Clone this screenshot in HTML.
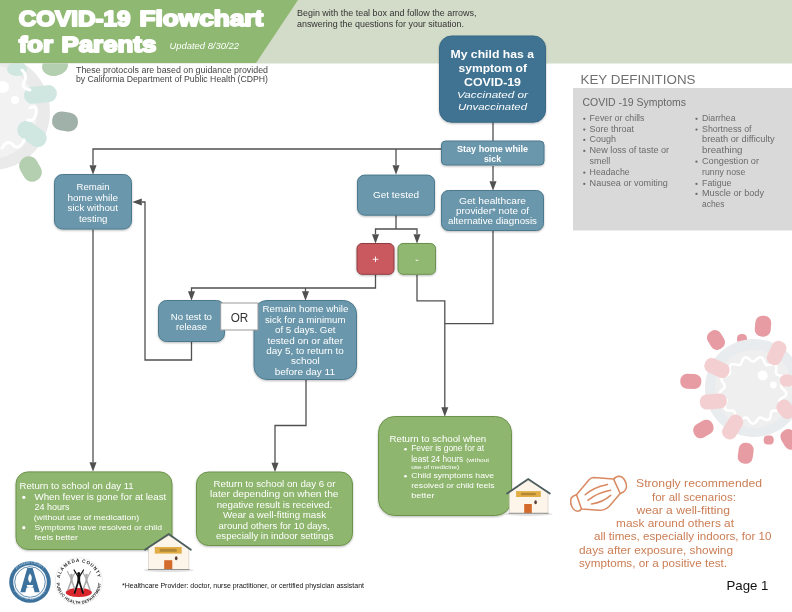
<!DOCTYPE html>
<html><head><meta charset="utf-8"><title>COVID-19 Flowchart for Parents</title>
<style>
html,body{margin:0;padding:0;background:#fff;}
body{width:792px;height:612px;overflow:hidden;font-family:"Liberation Sans",sans-serif;}
svg{display:block;font-family:"Liberation Sans",sans-serif;}
</style></head><body>
<svg width="792" height="612" viewBox="0 0 792 612">
<defs>
<filter id="sh" x="-10%" y="-10%" width="120%" height="130%"><feDropShadow dx="0" dy="1" stdDeviation="1" flood-color="#000" flood-opacity="0.28"/></filter>
<filter id="bl" x="-5%" y="-5%" width="110%" height="110%"><feGaussianBlur stdDeviation="0.5"/></filter>
</defs>
<rect width="792" height="612" fill="#fff"/>
<g opacity="0.999">

<g id="virusL">
<circle cx="-8" cy="112" r="58" fill="#eaeaea"/>
<circle cx="-10" cy="112" r="47" fill="#f2f2f2"/>
<ellipse cx="55" cy="66" rx="13" ry="10" fill="#b4ceb0" transform="rotate(-10 55 66)"/>
<ellipse cx="17" cy="69" rx="10" ry="7" fill="#cfe7e0"/>
<rect x="24" y="86" width="33" height="17" rx="8.5" fill="#cfe7e0" transform="rotate(-6 40 95)"/>
<rect x="52" y="112" width="26" height="19" rx="9" fill="#9fb1a8" transform="rotate(8 65 122)"/>
<rect x="16" y="125" width="32" height="18" rx="9" fill="#cfe7e0" transform="rotate(35 32 134)"/>
<rect x="21" y="156" width="19" height="26" rx="9" fill="#b4ceb0" transform="rotate(-30 30.5 169)"/>
<circle cx="3" cy="87" r="6" fill="#fff"/>
<circle cx="15" cy="100" r="4" fill="#fff"/>
<path d="M22,70 q6,6 2,12 q-3,6 6,8 M30,108 q8,-4 6,6 q-2,8 -8,6 M2,148 q6,-10 12,-2 q6,4 10,-6" fill="none" stroke="#fff" stroke-width="3" stroke-linecap="round"/>
</g>
<rect x="0" y="0" width="792" height="63.5" fill="#d3dcc9"/>
<path d="M0,0 H298 L256,63 H0 Z" fill="#8fb872"/>
<text x="18.70" y="25.70" font-size="22" fill="#fff" font-weight="bold" font-style="normal" textLength="111.80" lengthAdjust="spacingAndGlyphs" stroke="#fff" stroke-width="1.9" stroke-linejoin="round">COVID-19</text>
<text x="139.50" y="25.70" font-size="22" fill="#fff" font-weight="bold" font-style="normal" textLength="123.80" lengthAdjust="spacingAndGlyphs" stroke="#fff" stroke-width="1.9" stroke-linejoin="round">Flowchart</text>
<text x="18.70" y="51.90" font-size="22" fill="#fff" font-weight="bold" font-style="normal" textLength="34.30" lengthAdjust="spacingAndGlyphs" stroke="#fff" stroke-width="1.9" stroke-linejoin="round">for</text>
<text x="61.50" y="51.90" font-size="22" fill="#fff" font-weight="bold" font-style="normal" textLength="94.80" lengthAdjust="spacingAndGlyphs" stroke="#fff" stroke-width="1.9" stroke-linejoin="round">Parents</text>
<text x="169.50" y="49.49" font-size="8.8" fill="#fff" font-weight="normal" font-style="italic" textLength="69.50" lengthAdjust="spacingAndGlyphs" >Updated 8/30/22</text>
<text x="297.00" y="15.50" font-size="9.4" fill="#333" font-weight="normal" font-style="normal" textLength="179.50" lengthAdjust="spacingAndGlyphs" >Begin with the teal box and follow the arrows,</text>
<text x="297.00" y="27.00" font-size="9.4" fill="#333" font-weight="normal" font-style="normal" textLength="167.00" lengthAdjust="spacingAndGlyphs" >answering the questions for your situation.</text>
<text x="76.00" y="72.86" font-size="8.3" fill="#444" font-weight="normal" font-style="normal" textLength="192.00" lengthAdjust="spacingAndGlyphs" >These protocols are based on guidance provided</text>
<text x="76.00" y="82.46" font-size="8.3" fill="#444" font-weight="normal" font-style="normal" textLength="192.00" lengthAdjust="spacingAndGlyphs" >by California Department of Public Health (CDPH)</text>
<polyline points="493,122 493,141" fill="none" stroke="#505050" stroke-width="1.3"/>
<polyline points="442,149 93,149 93,165" fill="none" stroke="#505050" stroke-width="1.3"/>
<polyline points="396,149 396,165" fill="none" stroke="#505050" stroke-width="1.3"/>
<path d="M89.5,165.20000000000002 L96.5,165.20000000000002 L93,174.8 Z" fill="#505050"/>
<path d="M392.5,165.20000000000002 L399.5,165.20000000000002 L396,174.8 Z" fill="#505050"/>
<polyline points="493,166 493,181" fill="none" stroke="#505050" stroke-width="1.3"/>
<path d="M489.5,181.20000000000002 L496.5,181.20000000000002 L493,190.8 Z" fill="#505050"/>
<polyline points="396,215 396,229" fill="none" stroke="#505050" stroke-width="1.3"/>
<polyline points="375.5,234 375.5,229 417,229 417,234" fill="none" stroke="#505050" stroke-width="1.3"/>
<path d="M372.0,234.20000000000002 L379.0,234.20000000000002 L375.5,243.8 Z" fill="#505050"/>
<path d="M413.5,234.20000000000002 L420.5,234.20000000000002 L417,243.8 Z" fill="#505050"/>
<polyline points="375.5,275 375.5,288 191.5,288 191.5,292" fill="none" stroke="#505050" stroke-width="1.3"/>
<polyline points="305.5,288 305.5,292" fill="none" stroke="#505050" stroke-width="1.3"/>
<path d="M188.0,291.2 L195.0,291.2 L191.5,300.8 Z" fill="#505050"/>
<path d="M302.0,291.2 L309.0,291.2 L305.5,300.8 Z" fill="#505050"/>
<polyline points="417,275 417,300.8 444.8,300.8 444.8,408" fill="none" stroke="#505050" stroke-width="1.3"/>
<path d="M441.3,407.2 L448.3,407.2 L444.8,416.8 Z" fill="#505050"/>
<polyline points="493,231 493,323.6 444.8,323.6" fill="none" stroke="#505050" stroke-width="1.3"/>
<polyline points="191.5,342 191.5,360 145,360 145,202 142,202" fill="none" stroke="#505050" stroke-width="1.3"/>
<path d="M141.79999999999998,198.5 L141.79999999999998,205.5 L132.2,202 Z" fill="#505050"/>
<polyline points="93,229.5 93,462" fill="none" stroke="#505050" stroke-width="1.3"/>
<path d="M89.5,462.2 L96.5,462.2 L93,471.8 Z" fill="#505050"/>
<polyline points="306,380 306,425.5 275,425.5 275,463" fill="none" stroke="#505050" stroke-width="1.3"/>
<path d="M271.5,462.7 L278.5,462.7 L275,472.3 Z" fill="#505050"/>
<rect x="439.5" y="36.0" width="106" height="86.2" rx="12" ry="12" fill="#3f7392" stroke="#386885" stroke-width="1" filter="url(#sh)"/>
<text x="450.50" y="58.01" font-size="11.8" fill="#fff" font-weight="bold" font-style="normal" textLength="83.50" lengthAdjust="spacingAndGlyphs" >My child has a</text>
<text x="458.50" y="71.81" font-size="11.8" fill="#fff" font-weight="bold" font-style="normal" textLength="68.50" lengthAdjust="spacingAndGlyphs" >symptom of</text>
<text x="464.00" y="85.75" font-size="11.8" fill="#fff" font-weight="bold" font-style="normal" textLength="57.00" lengthAdjust="spacingAndGlyphs" >COVID-19</text>
<text x="457.00" y="97.76" font-size="9.6" fill="#fff" font-weight="normal" font-style="italic" textLength="71.00" lengthAdjust="spacingAndGlyphs" >Vaccinated or</text>
<text x="458.00" y="109.76" font-size="9.6" fill="#fff" font-weight="normal" font-style="italic" textLength="69.00" lengthAdjust="spacingAndGlyphs" >Unvaccinated</text>
<rect x="441.5" y="141.0" width="102.5" height="24.0" rx="4" ry="4" fill="#6a97ab" stroke="#4c798d" stroke-width="1" filter="url(#sh)"/>
<text x="457.00" y="151.68" font-size="9.3" fill="#fff" font-weight="bold" font-style="normal" textLength="71.00" lengthAdjust="spacingAndGlyphs" >Stay home while</text>
<text x="484.00" y="161.98" font-size="9.3" fill="#fff" font-weight="bold" font-style="normal" textLength="17.00" lengthAdjust="spacingAndGlyphs" >sick</text>
<rect x="357.5" y="175.1" width="77" height="40.099999999999994" rx="7" ry="7" fill="#6a97ab" stroke="#4c798d" stroke-width="1" filter="url(#sh)"/>
<text x="373.00" y="198.37" font-size="9.6" fill="#fff" font-weight="normal" font-style="normal" textLength="46.00" lengthAdjust="spacingAndGlyphs" >Get tested</text>
<rect x="441.5" y="190.5" width="102" height="40" rx="7" ry="7" fill="#6a97ab" stroke="#4c798d" stroke-width="1" filter="url(#sh)"/>
<text x="459.00" y="203.81" font-size="9.4" fill="#fff" font-weight="normal" font-style="normal" textLength="67.00" lengthAdjust="spacingAndGlyphs" >Get healthcare</text>
<text x="456.00" y="214.01" font-size="9.4" fill="#fff" font-weight="normal" font-style="normal" textLength="73.00" lengthAdjust="spacingAndGlyphs" >provider* note of</text>
<text x="448.00" y="224.41" font-size="9.4" fill="#fff" font-weight="normal" font-style="normal" textLength="89.00" lengthAdjust="spacingAndGlyphs" >alternative diagnosis</text>
<rect x="357.0" y="243.5" width="37.0" height="30.80000000000001" rx="5" ry="5" fill="#c9585e" stroke="#8f3d43" stroke-width="1" filter="url(#sh)"/>
<path d="M372.7,259.3 H378.3 M375.5,256.5 V262.1" stroke="#fff" stroke-width="0.9" fill="none"/>
<rect x="398.0" y="243.5" width="37.5" height="30.80000000000001" rx="5" ry="5" fill="#90b86f" stroke="#6a8f4f" stroke-width="1" filter="url(#sh)"/>
<path d="M415.6,260.3 H418.4" stroke="#fff" stroke-width="0.9" fill="none"/>
<rect x="54.5" y="174.5" width="77" height="54.599999999999994" rx="8" ry="8" fill="#6a97ab" stroke="#4c798d" stroke-width="1" filter="url(#sh)"/>
<text x="76.50" y="189.58" font-size="9" fill="#fff" font-weight="normal" font-style="normal" textLength="33.00" lengthAdjust="spacingAndGlyphs" >Remain</text>
<text x="67.50" y="200.68" font-size="9" fill="#fff" font-weight="normal" font-style="normal" textLength="50.50" lengthAdjust="spacingAndGlyphs" >home while</text>
<text x="67.50" y="211.18" font-size="9" fill="#fff" font-weight="normal" font-style="normal" textLength="50.50" lengthAdjust="spacingAndGlyphs" >sick without</text>
<text x="79.00" y="221.58" font-size="9" fill="#fff" font-weight="normal" font-style="normal" textLength="28.50" lengthAdjust="spacingAndGlyphs" >testing</text>
<rect x="158.5" y="300.5" width="66" height="41" rx="8" ry="8" fill="#6a97ab" stroke="#4c798d" stroke-width="1" filter="url(#sh)"/>
<text x="170.70" y="319.58" font-size="9" fill="#fff" font-weight="normal" font-style="normal" textLength="41.30" lengthAdjust="spacingAndGlyphs" >No test to</text>
<text x="176.00" y="329.68" font-size="9" fill="#fff" font-weight="normal" font-style="normal" textLength="31.00" lengthAdjust="spacingAndGlyphs" >release</text>
<rect x="254.0" y="300.5" width="102.5" height="79" rx="13" ry="13" fill="#6a97ab" stroke="#4c798d" stroke-width="1" filter="url(#sh)"/>
<text x="262.50" y="311.94" font-size="9.2" fill="#fff" font-weight="normal" font-style="normal" textLength="86.00" lengthAdjust="spacingAndGlyphs" >Remain home while</text>
<text x="265.00" y="322.64" font-size="9.2" fill="#fff" font-weight="normal" font-style="normal" textLength="80.50" lengthAdjust="spacingAndGlyphs" >sick for a minimum</text>
<text x="275.00" y="333.14" font-size="9.2" fill="#fff" font-weight="normal" font-style="normal" textLength="60.50" lengthAdjust="spacingAndGlyphs" >of 5 days. Get</text>
<text x="267.50" y="343.54" font-size="9.2" fill="#fff" font-weight="normal" font-style="normal" textLength="75.50" lengthAdjust="spacingAndGlyphs" >tested on or after</text>
<text x="266.20" y="353.94" font-size="9.2" fill="#fff" font-weight="normal" font-style="normal" textLength="77.60" lengthAdjust="spacingAndGlyphs" >day 5, to return to</text>
<text x="291.00" y="364.44" font-size="9.2" fill="#fff" font-weight="normal" font-style="normal" textLength="28.80" lengthAdjust="spacingAndGlyphs" >school</text>
<text x="274.70" y="374.74" font-size="9.2" fill="#fff" font-weight="normal" font-style="normal" textLength="60.30" lengthAdjust="spacingAndGlyphs" >before day 11</text>
<rect x="220.7" y="303" width="37.3" height="27" fill="#fff" stroke="#999" stroke-width="1"/>
<text x="230.70" y="321.62" font-size="12" fill="#333" font-weight="normal" font-style="normal" textLength="17.60" lengthAdjust="spacingAndGlyphs" >OR</text>
<rect x="16.0" y="471.9" width="156.0" height="77.60000000000002" rx="12" ry="12" fill="#8fb66e" stroke="#6d934b" stroke-width="1" filter="url(#sh)"/>
<text x="19.50" y="488.68" font-size="9" fill="#fff" font-weight="normal" font-style="normal" textLength="114.20" lengthAdjust="spacingAndGlyphs" >Return to school on day 11</text>
<circle cx="23.8" cy="497.3" r="1.6" fill="#fff"/><circle cx="23.8" cy="527.7" r="1.6" fill="#fff"/>
<text x="34.50" y="500.02" font-size="8.8" fill="#fff" font-weight="normal" font-style="normal" textLength="131.70" lengthAdjust="spacingAndGlyphs" >When fever is gone for at least</text>
<text x="34.50" y="510.02" font-size="8.8" fill="#fff" font-weight="normal" font-style="normal" textLength="35.00" lengthAdjust="spacingAndGlyphs" >24 hours</text>
<text x="33.70" y="519.80" font-size="7.2" fill="#fff" font-weight="normal" font-style="normal" textLength="105.50" lengthAdjust="spacingAndGlyphs" >(without use of medication)</text>
<text x="34.50" y="529.80" font-size="7.8" fill="#fff" font-weight="normal" font-style="normal" textLength="127.50" lengthAdjust="spacingAndGlyphs" >Symptoms have resolved or child</text>
<text x="34.50" y="539.50" font-size="7.8" fill="#fff" font-weight="normal" font-style="normal" textLength="43.50" lengthAdjust="spacingAndGlyphs" >feels better</text>
<rect x="196.5" y="472.0" width="156" height="73.5" rx="12" ry="12" fill="#8fb66e" stroke="#6d934b" stroke-width="1" filter="url(#sh)"/>
<text x="213.50" y="486.94" font-size="9.2" fill="#fff" font-weight="normal" font-style="normal" textLength="122.00" lengthAdjust="spacingAndGlyphs" >Return to school on day 6 or</text>
<text x="210.00" y="497.14" font-size="9.2" fill="#fff" font-weight="normal" font-style="normal" textLength="128.50" lengthAdjust="spacingAndGlyphs" >later depending on when the</text>
<text x="216.70" y="507.74" font-size="9.2" fill="#fff" font-weight="normal" font-style="normal" textLength="115.50" lengthAdjust="spacingAndGlyphs" >negative result is received.</text>
<text x="223.00" y="517.54" font-size="9.2" fill="#fff" font-weight="normal" font-style="normal" textLength="103.00" lengthAdjust="spacingAndGlyphs" >Wear a well-fitting mask</text>
<text x="218.50" y="528.54" font-size="9.2" fill="#fff" font-weight="normal" font-style="normal" textLength="111.20" lengthAdjust="spacingAndGlyphs" >around others for 10 days,</text>
<text x="216.00" y="538.74" font-size="9.2" fill="#fff" font-weight="normal" font-style="normal" textLength="117.50" lengthAdjust="spacingAndGlyphs" >especially in indoor settings</text>
<rect x="378.5" y="416.5" width="133" height="99" rx="16" ry="16" fill="#8fb66e" stroke="#6d934b" stroke-width="1" filter="url(#sh)"/>
<text x="389.50" y="441.68" font-size="9" fill="#fff" font-weight="normal" font-style="normal" textLength="96.70" lengthAdjust="spacingAndGlyphs" >Return to school when</text>
<circle cx="405.5" cy="449.3" r="1.3" fill="#fff"/><circle cx="405.5" cy="476.3" r="1.3" fill="#fff"/>
<text x="411.20" y="451.46" font-size="8.3" fill="#fff" font-weight="normal" font-style="normal" textLength="73.00" lengthAdjust="spacingAndGlyphs" >Fever is gone for at</text>
<text x="411.20" y="461.96" font-size="8.3" fill="#fff" font-weight="normal" font-style="normal" textLength="52.00" lengthAdjust="spacingAndGlyphs" >least 24 hours</text>
<text x="466.20" y="461.90" font-size="5.3" fill="#fff" font-weight="normal" font-style="normal" textLength="23.00" lengthAdjust="spacingAndGlyphs" >(without</text>
<text x="411.20" y="468.70" font-size="5.3" fill="#fff" font-weight="normal" font-style="normal" textLength="48.00" lengthAdjust="spacingAndGlyphs" >use of medicine)</text>
<text x="411.20" y="478.16" font-size="8" fill="#fff" font-weight="normal" font-style="normal" textLength="83.00" lengthAdjust="spacingAndGlyphs" >Child symptoms have</text>
<text x="411.20" y="488.36" font-size="8" fill="#fff" font-weight="normal" font-style="normal" textLength="83.30" lengthAdjust="spacingAndGlyphs" >resolved or child feels</text>
<text x="411.20" y="497.86" font-size="8" fill="#fff" font-weight="normal" font-style="normal" textLength="23.30" lengthAdjust="spacingAndGlyphs" >better</text>
<rect x="573" y="88" width="219" height="142.5" fill="#d9d9d9"/>
<text x="580.50" y="84.05" font-size="13.2" fill="#707070" font-weight="normal" font-style="normal" textLength="115.00" lengthAdjust="spacingAndGlyphs" >KEY DEFINITIONS</text>
<text x="582.50" y="105.70" font-size="10.6" fill="#666" font-weight="normal" font-style="normal" textLength="103.50" lengthAdjust="spacingAndGlyphs" >COVID -19 Symptoms</text>
<text x="589.60" y="120.82" font-size="8.8" fill="#6b6b6b" font-weight="normal" font-style="normal" textLength="54.90" lengthAdjust="spacingAndGlyphs" >Fever or chills</text>
<circle cx="584.3" cy="118.8" r="1.15" fill="#6b6b6b"/>
<text x="589.60" y="131.62" font-size="8.8" fill="#6b6b6b" font-weight="normal" font-style="normal" textLength="44.40" lengthAdjust="spacingAndGlyphs" >Sore throat</text>
<circle cx="584.3" cy="129.60000000000002" r="1.15" fill="#6b6b6b"/>
<text x="589.60" y="141.92" font-size="8.8" fill="#6b6b6b" font-weight="normal" font-style="normal" textLength="26.40" lengthAdjust="spacingAndGlyphs" >Cough</text>
<circle cx="584.3" cy="139.9" r="1.15" fill="#6b6b6b"/>
<text x="589.60" y="152.92" font-size="8.8" fill="#6b6b6b" font-weight="normal" font-style="normal" textLength="79.40" lengthAdjust="spacingAndGlyphs" >New loss of taste or</text>
<circle cx="584.3" cy="150.9" r="1.15" fill="#6b6b6b"/>
<text x="589.60" y="163.72" font-size="8.8" fill="#6b6b6b" font-weight="normal" font-style="normal" textLength="20.70" lengthAdjust="spacingAndGlyphs" >smell</text>
<text x="589.60" y="174.72" font-size="8.8" fill="#6b6b6b" font-weight="normal" font-style="normal" textLength="40.10" lengthAdjust="spacingAndGlyphs" >Headache</text>
<circle cx="584.3" cy="172.70000000000002" r="1.15" fill="#6b6b6b"/>
<text x="589.60" y="185.92" font-size="8.8" fill="#6b6b6b" font-weight="normal" font-style="normal" textLength="78.20" lengthAdjust="spacingAndGlyphs" >Nausea or vomiting</text>
<circle cx="584.3" cy="183.9" r="1.15" fill="#6b6b6b"/>
<text x="702.00" y="120.82" font-size="8.8" fill="#6b6b6b" font-weight="normal" font-style="normal" textLength="33.60" lengthAdjust="spacingAndGlyphs" >Diarrhea</text>
<circle cx="696.5" cy="118.8" r="1.15" fill="#6b6b6b"/>
<text x="702.00" y="131.62" font-size="8.8" fill="#6b6b6b" font-weight="normal" font-style="normal" textLength="49.50" lengthAdjust="spacingAndGlyphs" >Shortness of</text>
<circle cx="696.5" cy="129.60000000000002" r="1.15" fill="#6b6b6b"/>
<text x="702.00" y="141.92" font-size="8.8" fill="#6b6b6b" font-weight="normal" font-style="normal" textLength="72.70" lengthAdjust="spacingAndGlyphs" >breath or difficulty</text>
<text x="702.00" y="152.92" font-size="8.8" fill="#6b6b6b" font-weight="normal" font-style="normal" textLength="40.50" lengthAdjust="spacingAndGlyphs" >breathing</text>
<text x="702.00" y="163.72" font-size="8.8" fill="#6b6b6b" font-weight="normal" font-style="normal" textLength="57.00" lengthAdjust="spacingAndGlyphs" >Congestion or</text>
<circle cx="696.5" cy="161.70000000000002" r="1.15" fill="#6b6b6b"/>
<text x="702.00" y="174.72" font-size="8.8" fill="#6b6b6b" font-weight="normal" font-style="normal" textLength="43.30" lengthAdjust="spacingAndGlyphs" >runny nose</text>
<text x="702.00" y="185.92" font-size="8.8" fill="#6b6b6b" font-weight="normal" font-style="normal" textLength="29.50" lengthAdjust="spacingAndGlyphs" >Fatigue</text>
<circle cx="696.5" cy="183.9" r="1.15" fill="#6b6b6b"/>
<text x="702.00" y="195.92" font-size="8.8" fill="#6b6b6b" font-weight="normal" font-style="normal" textLength="62.00" lengthAdjust="spacingAndGlyphs" >Muscle or body</text>
<circle cx="696.5" cy="193.9" r="1.15" fill="#6b6b6b"/>
<text x="702.00" y="207.02" font-size="8.8" fill="#6b6b6b" font-weight="normal" font-style="normal" textLength="22.50" lengthAdjust="spacingAndGlyphs" >aches</text>
<text x="636.00" y="487.02" font-size="11" fill="#cb7e55" font-weight="normal" font-style="normal" textLength="126.00" lengthAdjust="spacingAndGlyphs" >Strongly recommended</text>
<text x="652.00" y="500.52" font-size="11" fill="#cb7e55" font-weight="normal" font-style="normal" textLength="84.00" lengthAdjust="spacingAndGlyphs" >for all scenarios:</text>
<text x="636.50" y="513.52" font-size="11" fill="#cb7e55" font-weight="normal" font-style="normal" textLength="93.50" lengthAdjust="spacingAndGlyphs" >wear a well-fitting</text>
<text x="616.00" y="526.72" font-size="11" fill="#cb7e55" font-weight="normal" font-style="normal" textLength="118.00" lengthAdjust="spacingAndGlyphs" >mask around others at</text>
<text x="594.00" y="539.82" font-size="11" fill="#cb7e55" font-weight="normal" font-style="normal" textLength="177.50" lengthAdjust="spacingAndGlyphs" >all times, especially indoors, for 10</text>
<text x="579.00" y="553.52" font-size="11" fill="#cb7e55" font-weight="normal" font-style="normal" textLength="154.00" lengthAdjust="spacingAndGlyphs" >days after exposure, showing</text>
<text x="579.00" y="567.02" font-size="11" fill="#cb7e55" font-weight="normal" font-style="normal" textLength="148.00" lengthAdjust="spacingAndGlyphs" >symptoms, or a positive test.</text>
<text x="726.50" y="589.82" font-size="13.4" fill="#111" font-weight="normal" font-style="normal" textLength="42.00" lengthAdjust="spacingAndGlyphs" >Page 1</text>
<text x="122.00" y="588.11" font-size="6.6" fill="#111" font-weight="normal" font-style="normal" textLength="242.00" lengthAdjust="spacingAndGlyphs" >*Healthcare Provider: doctor, nurse practitioner, or certified physician assistant</text>
<g id="virusR">
<rect x="737.0" y="334.0" width="10" height="10" rx="4.5" fill="#e69ca2" transform="rotate(0 742 339)"/>
<rect x="763.7" y="435.5" width="10" height="9" rx="4.0" fill="#e69ca2" transform="rotate(0 768.7 440)"/>
<circle cx="754" cy="388" r="49" fill="#e9ecee"/>
<circle cx="754" cy="389" r="39" fill="#efefef"/>
<polyline points="784.0,390.0 785.0,391.0 785.8,392.0 786.3,393.0 786.4,394.1 786.0,395.0 785.3,395.9 784.3,396.7 783.1,397.4 781.9,398.1 780.8,398.7 780.0,399.3 779.6,400.1 779.4,400.9 779.6,402.0 780.0,403.1 780.4,404.4 780.9,405.7 781.1,407.0 781.0,408.1 780.7,409.1 779.9,409.8 778.8,410.3 777.6,410.5 776.2,410.6 774.8,410.6 773.6,410.6 772.6,410.8 771.8,411.3 771.3,412.0 771.0,413.0 770.8,414.2 770.6,415.5 770.4,416.9 770.0,418.1 769.4,419.1 768.6,419.8 767.6,420.0 766.5,419.9 765.2,419.6 764.0,419.0 762.8,418.4 761.7,417.8 760.7,417.5 759.8,417.6 759.0,418.0 758.3,418.7 757.5,419.7 756.7,420.8 755.9,421.9 755.0,422.8 754.0,423.4 753.0,423.6 752.0,423.4 751.0,422.8 750.1,421.9 749.3,420.8 748.5,419.7 747.7,418.7 747.0,418.0 746.2,417.6 745.3,417.5 744.3,417.8 743.2,418.4 742.0,419.0 740.8,419.6 739.5,419.9 738.4,420.0 737.4,419.8 736.6,419.1 736.0,418.1 735.6,416.9 735.4,415.5 735.2,414.2 735.0,413.0 734.7,412.0 734.2,411.3 733.4,410.8 732.4,410.6 731.2,410.6 729.8,410.6 728.4,410.5 727.2,410.3 726.1,409.8 725.3,409.1 725.0,408.1 724.9,407.0 725.1,405.7 725.6,404.4 726.0,403.1 726.4,402.0 726.6,400.9 726.4,400.1 726.0,399.3 725.2,398.7 724.1,398.1 722.9,397.4 721.7,396.7 720.7,395.9 720.0,395.0 719.6,394.1 719.7,393.0 720.2,392.0 721.0,391.0 722.0,390.0 723.0,389.1 723.9,388.2 724.5,387.4 724.8,386.6 724.7,385.7 724.3,384.7 723.7,383.7 722.9,382.6 722.2,381.4 721.6,380.2 721.4,379.1 721.6,378.1 722.1,377.2 723.1,376.5 724.2,376.0 725.6,375.6 726.9,375.3 728.0,374.9 729.0,374.5 729.6,373.9 730.0,373.1 730.0,372.0 730.0,370.8 729.8,369.4 729.7,368.1 729.8,366.8 730.1,365.7 730.7,364.9 731.6,364.3 732.7,364.2 734.0,364.2 735.4,364.5 736.7,364.8 737.9,365.0 739.0,365.1 739.8,364.9 740.5,364.3 741.0,363.4 741.5,362.3 742.0,361.0 742.6,359.8 743.2,358.6 744.0,357.8 745.0,357.4 746.0,357.3 747.1,357.7 748.2,358.4 749.3,359.2 750.3,360.1 751.2,360.9 752.1,361.4 753.0,361.6 753.9,361.4 754.8,360.9 755.7,360.1 756.7,359.2 757.8,358.4 758.9,357.7 760.0,357.3 761.0,357.4 762.0,357.8 762.8,358.6 763.4,359.8 764.0,361.0 764.5,362.3 765.0,363.4 765.5,364.3 766.2,364.9 767.0,365.1 768.1,365.0 769.3,364.8 770.6,364.5 772.0,364.2 773.3,364.2 774.4,364.3 775.3,364.9 775.9,365.7 776.2,366.8 776.3,368.1 776.2,369.4 776.0,370.8 776.0,372.0 776.0,373.1 776.4,373.9 777.0,374.5 778.0,374.9 779.1,375.3 780.4,375.6 781.8,376.0 782.9,376.5 783.9,377.2 784.4,378.1 784.6,379.1 784.4,380.2 783.8,381.4 783.1,382.6 782.3,383.7 781.7,384.7 781.3,385.7 781.2,386.6 781.5,387.4 782.1,388.2 783.0,389.1 784.0,390.0" fill="none" stroke="#fff" stroke-width="2.6" stroke-linejoin="round"/>
<rect x="755.0" y="315.7" width="16" height="21" rx="7.2" fill="#e69ca2" transform="rotate(5 763 326.2)"/>
<rect x="708.5" y="330.0" width="15" height="20" rx="6.8" fill="#e69ca2" transform="rotate(-32 716 340)"/>
<rect x="680.3" y="373.9" width="21" height="15" rx="6.8" fill="#e69ca2" transform="rotate(3 690.8 381.4)"/>
<rect x="692.9" y="421.5" width="21" height="15" rx="6.8" fill="#e69ca2" transform="rotate(-32 703.4 429)"/>
<rect x="738.2" y="442.8" width="15" height="21" rx="6.8" fill="#e69ca2" transform="rotate(8 745.7 453.3)"/>
<rect x="782.1" y="428.9" width="15" height="21" rx="6.8" fill="#e69ca2" transform="rotate(-30 789.6 439.4)"/>
<rect x="769.1" y="340.5" width="15" height="25" rx="6.8" fill="#f4cfd1" transform="rotate(25 776.6 353)"/>
<rect x="704.0" y="360.5" width="26" height="15" rx="6.8" fill="#f4cfd1" transform="rotate(25 717 368)"/>
<rect x="699.8" y="394.0" width="27" height="15" rx="6.8" fill="#f4cfd1" transform="rotate(-5 713.3 401.5)"/>
<rect x="725.2" y="414.0" width="15" height="26" rx="6.8" fill="#f4cfd1" transform="rotate(32 732.7 427)"/>
<rect x="780.0" y="374.6" width="14" height="12" rx="5.4" fill="#f4cfd1" transform="rotate(0 787 380.6)"/>
<rect x="778.2" y="399.3" width="15" height="20" rx="6.8" fill="#f4cfd1" transform="rotate(-40 785.7 409.3)"/>
<circle cx="762.7" cy="375.4" r="5" fill="#fff"/><circle cx="773.4" cy="385" r="3.4" fill="#fff"/>
</g>
<g>
<ellipse cx="168.7" cy="570.3" rx="25.200000000000003" ry="1.8" fill="#000" opacity="0.12"/>
<path d="M148.5,569.5 V547.7 L168.7,535.5 L188.9,547.7 V569.5 Z" fill="#fdf4ea" stroke="#cfc8c0" stroke-width="0.6"/>
<rect x="154.8" y="547" width="26.899999999999977" height="6.600000000000023" fill="#e2ad45"/>
<rect x="159.8" y="548.8" width="16.899999999999977" height="3.0000000000000226" fill="#8a6a2a" opacity="0.55"/>
<rect x="164.2" y="560.2" width="8.100000000000023" height="9.299999999999955" fill="#d36b2c"/>
<ellipse cx="176.2" cy="558.2" rx="1.3" ry="2" fill="#5a3d33"/>
<path d="M145,549.7 L168.7,534 L190.9,549.7" fill="none" stroke="#4d5d5d" stroke-width="1.8" stroke-linecap="round" stroke-linejoin="miter"/>
<line x1="148.0" y1="569.5" x2="189.4" y2="569.5" stroke="#8c8c8c" stroke-width="0.9"/>
</g>
<g>
<ellipse cx="528.7" cy="514.0999999999999" rx="24.30000000000001" ry="1.8" fill="#000" opacity="0.12"/>
<path d="M509.4,513.3 V491.5 L528.2,480.5 L548,491.5 V513.3 Z" fill="#fdf4ea" stroke="#cfc8c0" stroke-width="0.6"/>
<rect x="516.1" y="491.1" width="24.699999999999932" height="5.899999999999977" fill="#e2ad45"/>
<rect x="521.1" y="492.90000000000003" width="14.699999999999932" height="2.299999999999977" fill="#8a6a2a" opacity="0.55"/>
<rect x="524.2" y="504" width="7.599999999999909" height="9.299999999999955" fill="#d36b2c"/>
<ellipse cx="535.6" cy="502.2" rx="1.3" ry="2" fill="#5a3d33"/>
<path d="M507.1,493.5 L528.2,479 L549.8,493.5" fill="none" stroke="#4d5d5d" stroke-width="1.8" stroke-linecap="round" stroke-linejoin="miter"/>
<line x1="508.9" y1="513.3" x2="548.5" y2="513.3" stroke="#8c8c8c" stroke-width="0.9"/>
</g>
<g fill="none" stroke="#d98a62" stroke-width="1.55" stroke-linecap="round" stroke-linejoin="round">
<path d="M576.5,494.8 L589.3,479.6 Q590.8,477.6 593.5,477.5 L613.5,478.9 L620.2,493.5 L609.3,506.2 Q604.5,510.6 599,510.3 L581.5,508.9 Z"/>
<path d="M614,479 Q615.5,476.4 619,476.2 Q622.5,476.4 624.3,479.5 Q626.8,483.5 626.5,487 Q626,491.5 620.2,493.5"/>
<path d="M576.5,494.8 Q571.5,496.2 570.8,499.5 Q570.2,503.5 572,507 Q574,511 577.9,511.2 Q580.3,511 581.5,508.9"/>
<path d="M585.2,494.8 Q592.5,487.5 607.5,484.4"/><path d="M587.9,500.3 Q598,492.5 610.6,490.3"/><path d="M591.5,503.9 Q602.5,502.5 610.6,495.3"/>
</g>
<g>
<circle cx="30" cy="582" r="20.8" fill="#3d729d"/>
<circle cx="30" cy="582" r="16.8" fill="#fff"/>
<circle cx="30" cy="582" r="15.3" fill="none" stroke="#3d729d" stroke-width="0.8"/>
<path id="l1t" d="M11.5,582 A18.5,18.5 0 0 1 48.5,582" fill="none"/><path id="l1b" d="M12.2,582 A17.8,17.8 0 0 0 47.8,582" fill="none"/>
<text font-size="2.9" fill="#cfe0ee" letter-spacing="0.25"><textPath href="#l1t" startOffset="50%" text-anchor="middle">ALAMEDA COUNTY</textPath></text>
<text font-size="2.9" fill="#cfe0ee" letter-spacing="0.25"><textPath href="#l1b" startOffset="50%" text-anchor="middle">OFFICE OF EDUCATION</textPath></text>
<path d="M20.3,592.3 L27.3,568 H32.7 L39.7,592.3 H34.6 L33.4,587.4 H26.6 L25.4,592.3 Z" fill="#3d729d"/>
<path d="M30,573.5 q2.4,3 1.6,6 q-0.5,2.2 -1.6,3.6 q-1.3,-1.6 -1.7,-3.4 q-0.6,-3 1.7,-6.2 Z" fill="#fff"/>
<path d="M26.6,585 H33.4 L32.4,587.6 H30.8 V590 H32.6 V591.5 H27.4 V590 H29.2 V587.6 H27.6 Z" fill="#fff"/>
</g>
<g>
<circle cx="78.8" cy="581.3" r="23.6" fill="#fff" stroke="#ddd" stroke-width="0.5"/>
<ellipse cx="78.8" cy="592.5" rx="13" ry="4.6" fill="#d8262c"/>
<g stroke="#aaa" stroke-linecap="round" fill="none">
<circle cx="71.5" cy="575" r="1.35" fill="#aaa" stroke="none"/>
<path d="M71.5,577 V582.0" stroke-width="2.3400000000000003"/>
<path d="M67.45,571.5 L70.7,578 M75.55,571.5 L72.3,578" stroke-width="1.08"/>
<path d="M71.0,581.55 L67.9,590 M72.0,581.55 L75.1,590" stroke-width="1.53"/>
</g>
<g stroke="#aaa" stroke-linecap="round" fill="none">
<circle cx="86.5" cy="575" r="1.35" fill="#aaa" stroke="none"/>
<path d="M86.5,577 V582.0" stroke-width="2.3400000000000003"/>
<path d="M82.45,571.5 L85.7,578 M90.55,571.5 L87.3,578" stroke-width="1.08"/>
<path d="M86.0,581.55 L82.9,590 M87.0,581.55 L90.1,590" stroke-width="1.53"/>
</g>
<g stroke="#111" stroke-linecap="round" fill="none">
<circle cx="78.8" cy="573.5" r="1.5750000000000002" fill="#111" stroke="none"/>
<path d="M78.8,575.5 V582.0" stroke-width="2.7300000000000004"/>
<path d="M74.075,570.0 L78.0,576.5 M83.52499999999999,570.0 L79.6,576.5" stroke-width="1.26"/>
<path d="M78.3,581.475 L74.6,593 M79.3,581.475 L83.0,593" stroke-width="1.785"/>
</g>
<path id="l2t" d="M59.8,584.7 A19.3,19.3 0 1 1 97.8,584.7" fill="none"/><path id="l2b" d="M56.5,579.3 A22.4,22.4 0 1 0 101.1,579.3" fill="none"/>
<text font-size="4.6" font-weight="bold" fill="#222" letter-spacing="0.75"><textPath href="#l2t" startOffset="50%" text-anchor="middle">ALAMEDA COUNTY</textPath></text>
<text font-size="4.1" font-weight="bold" fill="#222" letter-spacing="0.2"><textPath href="#l2b" startOffset="50%" text-anchor="middle">PUBLIC HEALTH DEPARTMENT</textPath></text>
</g>
</g></svg></body></html>
